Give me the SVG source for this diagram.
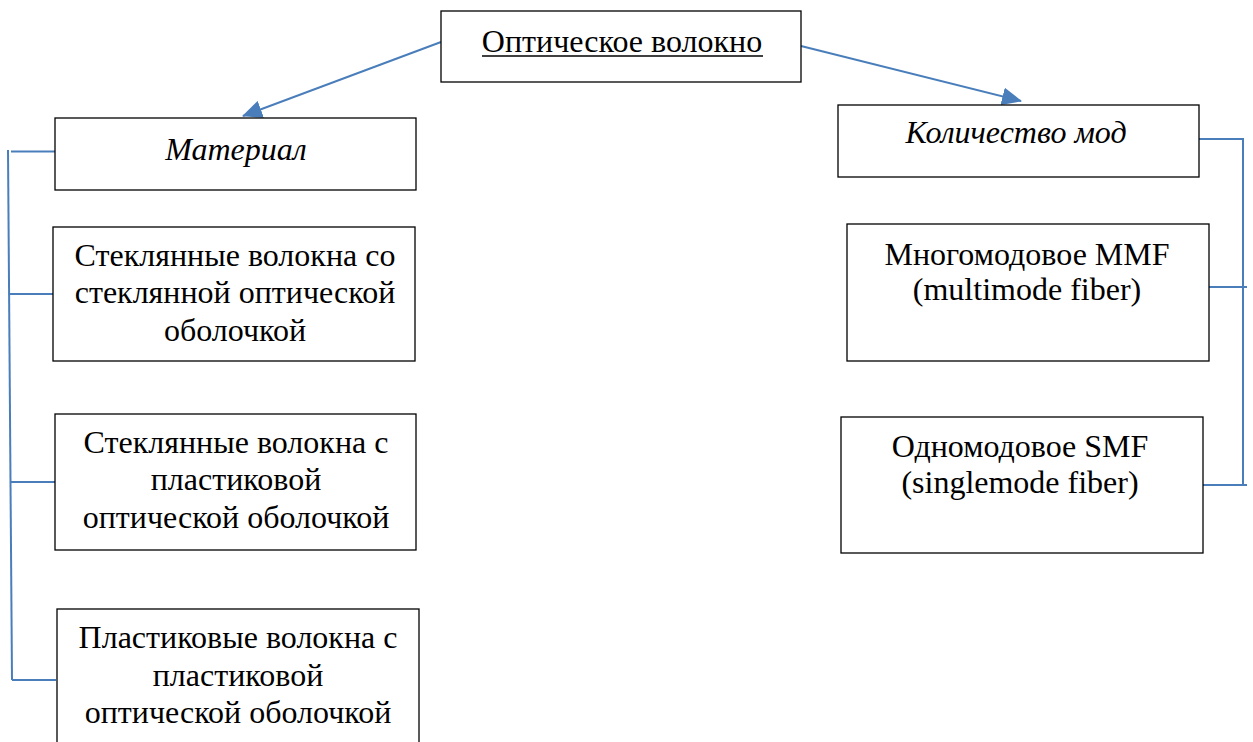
<svg xmlns="http://www.w3.org/2000/svg" width="1253" height="742" viewBox="0 0 1253 742">
<style>
.box{fill:#fff;stroke:#000;stroke-width:1.3}
.t{font-family:"Liberation Serif","Times New Roman",serif;font-size:32px;fill:#000;text-anchor:middle}
.i{font-style:italic}
.c{fill:none;stroke:#4a7ebb;stroke-width:2}
</style>
<defs>
<marker id="ah" markerUnits="userSpaceOnUse" markerWidth="20" markerHeight="18" refX="19" refY="9" orient="auto">
<path d="M0,0 L20,9 L0,18 z" fill="#4a7ebb"/>
</marker>
</defs>
<rect width="1253" height="742" fill="#fff"/>
<g id="connectors">
<line class="c" x1="441" y1="42" x2="243" y2="116" marker-end="url(#ah)"/>
<line class="c" x1="801" y1="46" x2="1021" y2="101" marker-end="url(#ah)"/>
<path class="c" d="M8,150 L12,680"/>
<path class="c" d="M11,151.5 H55 M9,294 H53 M11,482 H56 M12,680 H56"/>
<path class="c" d="M1199,139 H1243 V485 M1203,287 H1247 M1203,485 H1247"/>
</g>
<g id="n-root">
<rect class="box" x="441" y="11" width="360" height="71"/>
<text class="t" x="622" y="52">Оптическое волокно</text>
<line x1="482" y1="56" x2="763" y2="56" stroke="#000" stroke-width="1.3"/>
</g>
<g id="n-material">
<rect class="box" x="55" y="118" width="361" height="72"/>
<text class="t i" x="236" y="160">Материал</text>
</g>
<g id="n-modes">
<rect class="box" x="838" y="105" width="361" height="72"/>
<text class="t i" x="1016" y="143">Количество мод</text>
</g>
<g id="n-glass-glass">
<rect class="box" x="53" y="227" width="362" height="134"/>
<text class="t" x="235" y="266">Стеклянные волокна со</text>
<text class="t" x="235" y="303">стеклянной оптической</text>
<text class="t" x="235" y="341">оболочкой</text>
</g>
<g id="n-glass-plastic">
<rect class="box" x="55" y="414" width="361" height="136"/>
<text class="t" x="236" y="453">Стеклянные волокна с</text>
<text class="t" x="236" y="490">пластиковой</text>
<text class="t" x="236" y="528">оптической оболочкой</text>
</g>
<g id="n-plastic-plastic">
<rect class="box" x="57" y="609" width="362" height="140"/>
<text class="t" x="238" y="648">Пластиковые волокна с</text>
<text class="t" x="238" y="686">пластиковой</text>
<text class="t" x="238" y="723">оптической оболочкой</text>
</g>
<g id="n-mmf">
<rect class="box" x="847" y="224" width="362" height="137"/>
<text class="t" x="1027" y="265">Многомодовое MMF</text>
<text class="t" x="1027" y="300">(multimode fiber)</text>
</g>
<g id="n-smf">
<rect class="box" x="841" y="417" width="362" height="136"/>
<text class="t" x="1020" y="457">Одномодовое SMF</text>
<text class="t" x="1020" y="493">(singlemode fiber)</text>
</g>
</svg>
